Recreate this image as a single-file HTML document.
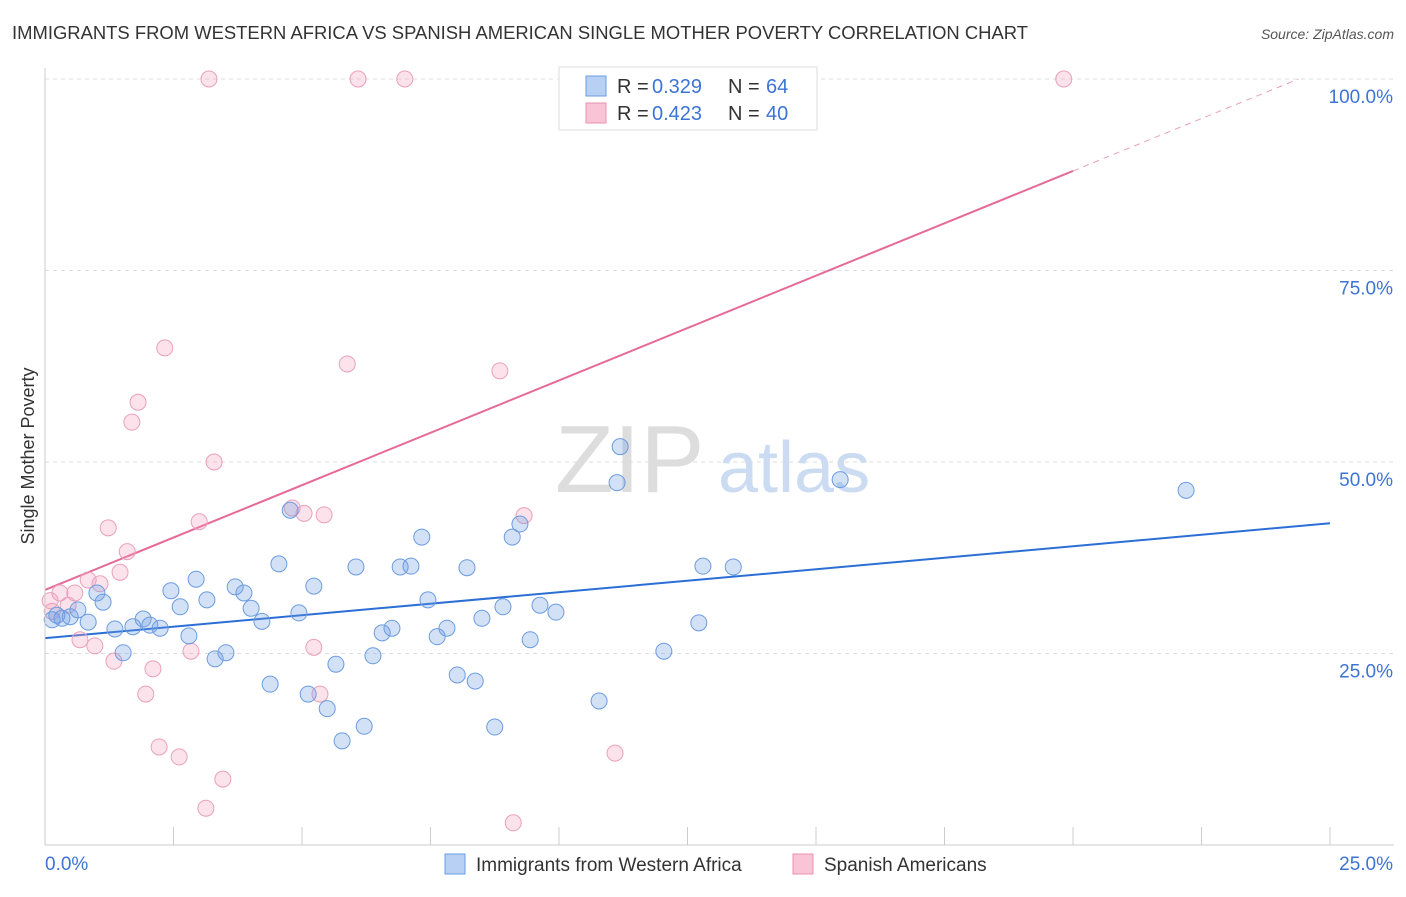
<!DOCTYPE html>
<html><head><meta charset="utf-8"><style>
body{margin:0;background:#fff;font-family:"Liberation Sans",sans-serif;}
svg text{font-family:"Liberation Sans",sans-serif;}
</style></head><body>
<svg width="1406" height="892" id="chart">
<text x="12" y="39" font-size="18" fill="#333" textLength="1016" lengthAdjust="spacingAndGlyphs">IMMIGRANTS FROM WESTERN AFRICA VS SPANISH AMERICAN SINGLE MOTHER POVERTY CORRELATION CHART</text>
<text x="1394" y="39" font-size="14" fill="#555" font-style="italic" text-anchor="end">Source: ZipAtlas.com</text>
<text x="34" y="456" font-size="18" fill="#333" text-anchor="middle" transform="rotate(-90 34 456)">Single Mother Poverty</text>
<g id="grid"></g>
<g><text x="555" y="492" font-size="96" fill="#ddd" font-family="Liberation Serif,serif">ZIP</text><text x="718" y="492" font-size="72" fill="#cbdcf2">atlas</text></g>
<g id="lines"></g>
<g id="points"></g>
<g id="axes"></g>
<g>
<rect x="559" y="67" width="258" height="63" fill="#fff" stroke="#ddd"/>
<rect x="586" y="76" width="20" height="20" fill="#b8d0f3" stroke="#6a9be0"/>
<rect x="586" y="103" width="20" height="20" fill="#f9c5d6" stroke="#e890b0"/>
<text x="617" y="93" font-size="20" fill="#333">R =</text><text x="652" y="93" font-size="20" fill="#3d74d4">0.329</text>
<text x="728" y="93" font-size="20" fill="#333">N =</text><text x="766" y="93" font-size="20" fill="#3d74d4">64</text>
<text x="617" y="120" font-size="20" fill="#333">R =</text><text x="652" y="120" font-size="20" fill="#3d74d4">0.423</text>
<text x="728" y="120" font-size="20" fill="#333">N =</text><text x="766" y="120" font-size="20" fill="#3d74d4">40</text>
</g>
<g>
<rect x="445" y="854" width="20" height="20" fill="#b8d0f3" stroke="#6a9be0"/>
<text x="476" y="871" font-size="19" fill="#333">Immigrants from Western Africa</text>
<rect x="793" y="854" width="20" height="20" fill="#f9c5d6" stroke="#e890b0"/>
<text x="824" y="871" font-size="19" fill="#333">Spanish Americans</text>
</g>
</svg>
<script>
const yTicks=[25,50,75,100];
const yTickLabels=["25.0%","50.0%","75.0%","100.0%"];
const xEndLabels=["0.0%","25.0%"];
const blueX=[0.14,0.23,0.33,0.49,0.64,0.84,1.01,1.13,1.36,1.52,1.71,1.91,2.04,2.24,2.45,2.63,2.80,2.94,3.15,3.31,3.52,3.70,3.87,4.01,4.22,4.38,4.55,4.77,4.94,5.12,5.23,5.49,5.66,5.78,6.05,6.21,6.38,6.56,6.75,6.91,7.12,7.33,7.45,7.63,7.82,8.02,8.21,8.37,8.50,8.75,8.91,9.09,9.24,9.44,9.63,9.94,10.78,11.13,11.19,12.04,12.72,12.80,13.39,15.47,22.20];
const blueY=[29.4,30.0,29.6,29.8,30.7,29.1,32.9,31.7,28.2,25.1,28.5,29.5,28.7,28.3,33.2,31.1,27.3,34.7,32.0,24.3,25.1,33.7,32.9,30.9,29.2,21.0,36.7,43.7,30.3,19.7,33.8,17.8,23.6,13.6,36.3,15.5,24.7,27.7,28.3,36.3,36.4,40.2,32.0,27.2,28.3,22.2,36.2,21.4,29.6,15.4,31.1,40.2,41.9,26.8,31.3,30.4,18.8,47.3,52.0,25.3,29.0,36.4,36.3,47.7,46.3];
const pinkX=[0.10,0.14,0.29,0.45,0.58,0.68,0.84,0.97,1.07,1.23,1.34,1.46,1.60,1.69,1.81,1.96,2.10,2.22,2.33,2.61,2.84,3.00,3.13,3.19,3.29,3.46,4.81,5.04,5.23,5.35,5.43,5.88,6.09,7.00,8.85,9.11,9.32,10.47,11.09,19.82];
const pinkY=[31.9,30.5,32.9,31.3,32.9,26.8,34.6,26.0,34.1,41.4,24.0,35.6,38.3,55.2,57.8,19.7,23.0,12.8,64.9,11.5,25.3,42.2,4.8,100,50.0,8.6,44.0,43.3,25.8,19.7,43.1,62.8,100,100,61.9,2.9,43.0,100,12.0,100];
const blueFit=[27.0,0.6];   // intercept, slope
const pinkFit=[33.3,2.735];
const NS="http://www.w3.org/2000/svg";
const X0=45,X1=1330,Y0=845,PXY=7.66;
const sx=v=>X0+(v/25)*(X1-X0);
const sy=v=>Y0-v*PXY;
function mk(tag,attrs,parent){const e=document.createElementNS(NS,tag);for(const k in attrs)e.setAttribute(k,attrs[k]);document.getElementById(parent).appendChild(e);return e;}
yTicks.forEach((t,i)=>{
  const l=mk('line',{x1:X0,x2:1394,y1:sy(t),y2:sy(t),stroke:'#ddd','stroke-dasharray':'4,4'},'grid');
  
  
  const tx=mk('text',{x:1393,y:sy(t)+24,'font-size':19,fill:'#3d74d4','text-anchor':'end'},'axes');
  tx.textContent=yTickLabels[i];
  
  
});
const ax=mk('line',{x1:X0,x2:X0,y1:68,y2:Y0,stroke:'#ccc'},'axes');


const bx=mk('line',{x1:X0,x2:1394,y1:Y0,y2:Y0,stroke:'#ccc'},'axes');


for(let i=0;i<=10;i++){
  const t=mk('line',{x1:sx(i*2.5),x2:sx(i*2.5),y1:Y0,y2:Y0-18,stroke:'#ccc'},'axes');
  
  
}
[[0,'start',45],[25,'end',1393]].forEach((d,i)=>{
  const t=mk('text',{x:d[2],y:870,'font-size':19,fill:'#3d74d4','text-anchor':d[1]},'axes');
  t.textContent=xEndLabels[i];
  
  
});
function pts(xs,ys,fill,stroke,name){
  xs.forEach((x,i)=>{
    const c=mk('circle',{cx:sx(x),cy:sy(ys[i]),r:8,fill:fill,stroke:stroke,'stroke-width':1},'points');
    
    
  });
}
pts(pinkX,pinkY,'rgba(243,160,190,0.3)','#eba0bb','point-spanish-americans');
pts(blueX,blueY,'rgba(110,155,230,0.3)','#6c9ce0','point-western-africa');
const bl=mk('line',{x1:sx(0),y1:sy(blueFit[0]),x2:sx(25),y2:sy(blueFit[0]+blueFit[1]*25),stroke:'#2b6fd6','stroke-width':2},'lines');


const pEnd=20, pMax=(100-pinkFit[0])/pinkFit[1];
const pl=mk('line',{x1:sx(0),y1:sy(pinkFit[0]),x2:sx(pEnd),y2:sy(pinkFit[0]+pinkFit[1]*pEnd),stroke:'#e56a98','stroke-width':2},'lines');


const pd=mk('line',{x1:sx(pEnd),y1:sy(pinkFit[0]+pinkFit[1]*pEnd),x2:sx(pMax),y2:sy(100),stroke:'#e9a0bb','stroke-width':1,'stroke-dasharray':'6,5'},'lines');


</script>
</body></html>
